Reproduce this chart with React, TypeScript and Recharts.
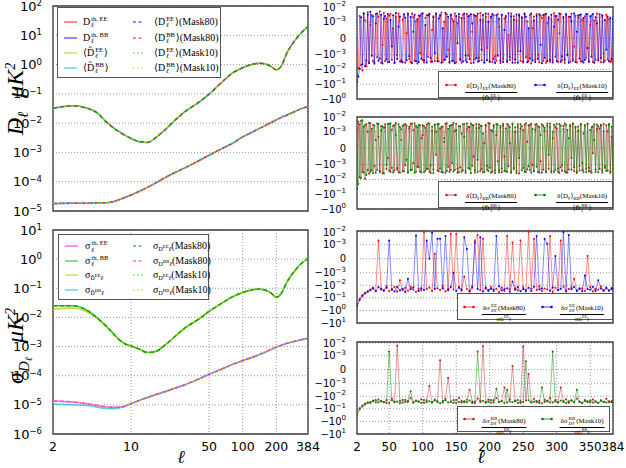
import React from 'react';
import { LineChart, Line, XAxis, YAxis, CartesianGrid, ReferenceArea } from 'recharts';

const SANS = "'DejaVu Sans', sans-serif";
const SERIF = "'Liberation Serif', 'DejaVu Serif', serif";

// ---- left column: smooth spectra (multipole ell, values in muK^2) ----
const ell = [2, 3, 4, 5, 6, 7, 8, 9, 10, 12, 14, 17, 20, 25, 30, 40, 50, 65, 80, 100, 120, 140, 160, 180, 200, 220, 250, 300, 340, 384];
const dEE = [0.032, 0.039, 0.033, 0.022, 0.011, 0.0068, 0.0048, 0.0037, 0.003, 0.0023, 0.0022, 0.0034, 0.0058, 0.013, 0.024, 0.05, 0.098, 0.25, 0.5, 0.78, 1.0, 1.12, 1.05, 0.85, 0.66, 0.85, 2.6, 7.5, 13, 20];
const dBB = [1.8e-5, 1.85e-5, 1.85e-5, 1.9e-5, 1.9e-5, 2.1e-5, 2.5e-5, 3.0e-5, 3.5e-5, 4.8e-5, 6.4e-5, 9.5e-5, 1.35e-4, 2.1e-4, 2.9e-4, 5.1e-4, 8.0e-4, 1.35e-3, 2.0e-3, 3.4e-3, 4.8e-3, 6.5e-3, 8.4e-3, 0.0105, 0.013, 0.0155, 0.019, 0.026, 0.032, 0.037];
const sigEEth = [0.025, 0.025, 0.018, 0.0095, 0.005, 0.0027, 0.0016, 0.0012, 0.00105, 0.0008, 0.00062, 0.0007, 0.0011, 0.0023, 0.0042, 0.0085, 0.016, 0.031, 0.05, 0.072, 0.088, 0.093, 0.086, 0.068, 0.049, 0.065, 0.17, 0.45, 0.75, 1.05];
const sigEEhat = [0.019, 0.021, 0.016, 0.009, 0.0048, 0.0026, 0.0016, 0.0012, 0.00105, 0.0008, 0.00062, 0.0007, 0.0011, 0.0023, 0.0042, 0.0085, 0.016, 0.031, 0.05, 0.072, 0.088, 0.093, 0.086, 0.068, 0.049, 0.065, 0.17, 0.45, 0.75, 1.05];
const sigBBth = [1.35e-5, 1.25e-5, 1.1e-5, 9.5e-6, 8.5e-6, 8.2e-6, 8.2e-6, 9.3e-6, 1.1e-5, 1.45e-5, 1.8e-5, 2.3e-5, 2.8e-5, 3.8e-5, 4.8e-5, 7.6e-5, 1.12e-4, 1.7e-4, 2.4e-4, 3.3e-4, 4.2e-4, 5.3e-4, 6.5e-4, 8e-4, 9.6e-4, 1.1e-3, 1.3e-3, 1.55e-3, 1.75e-3, 1.9e-3];
const sigBBhat = [1.07e-5, 1.0e-5, 9.5e-6, 8.3e-6, 7.5e-6, 7.4e-6, 8.0e-6, 9.3e-6, 1.1e-5, 1.45e-5, 1.8e-5, 2.3e-5, 2.8e-5, 3.8e-5, 4.8e-5, 7.6e-5, 1.12e-4, 1.7e-4, 2.4e-4, 3.3e-4, 4.2e-4, 5.3e-4, 6.5e-4, 8e-4, 9.6e-4, 1.1e-3, 1.3e-3, 1.55e-3, 1.75e-3, 1.9e-3];

const xTicksL = [2, 10, 50, 100, 200, 384];
const yTicksTL = [1e-5, 1e-4, 1e-3, 1e-2, 1e-1, 1, 10, 100];
const yTicksBL = [1e-6, 1e-5, 1e-4, 1e-3, 1e-2, 1e-1, 1, 10];

// ---- right column: relative residuals, values in units of 1e-3 ----
const ellR2 = Array.from({ length: 192 }, (_, i) => 2 + 2 * i); // 2..384
const ellR4 = [...Array.from({ length: 96 }, (_, i) => 2 + 4 * i), 384];
const xTicksR = [2, 50, 100, 150, 200, 250, 300, 350, 384];

const resEE80 = [
  -24, -8, 2.5, -5, -12, 3.8, 1.2, -6, 4.5, -3.2, 0.8, 2.9,
  -2.7, -4.1, 3.3, -1.5, 2.2, 5.1, -3.6, -0.4, 3.9, -2.8, 1.7, -3.3,
  2.6, 3.4, -2.2, 0.6, -3.7, 2.1, -1.1, 3.6, -2.9, -2.4, 1.4, 3.1,
  -3.5, 0.3, 2.8, -1.9, -3.2, 3.7, 2.0, -2.6, 1.1, -3.9, 2.7, -0.9,
  3.3, -2.3, -3.4, 1.8, 2.9, -1.4, 3.5, -3.0, 0.5, 2.4, -2.7, 3.8,
  -1.7, -2.9, 2.3, 4.2, -3.1, 1.0, -2.2, 3.2, -0.7, -3.6, 2.6, 1.5,
  -2.8, 3.6, -3.3, 0.9, 2.1, -1.8, -3.5, 3.0, 1.7, -2.5, 3.4, -1.2,
  2.7, -3.8, 0.4, 3.1, -2.1, 2.5, -3.0, -1.6, 3.9, -2.4, 1.3, -3.4,
  2.2, -0.6, 3.5, -2.9, 1.9, -3.2, 2.8, -1.3, -2.6, 3.3, 0.7, -3.7,
  3.0, -2.0, 1.6, 2.6, -3.1, 0.2, -2.3, 3.7, -1.9, 2.4, -3.5, 1.2,
  -0.8, 3.2, -2.7, 2.0, -3.4, 3.6, -1.5, 1.1, -2.8, 2.9, -3.9, 0.6,
  2.3, -2.2, 3.4, -1.0, -3.3, 2.7, 1.8, -2.6, 3.1, -3.6, 0.9, 2.1,
  -3.0, 1.5, -2.4, 3.8, -1.4, 2.5, -3.2, 0.3, 3.3, -2.5, 1.6, -3.7,
  2.9, -1.1, 2.2, -3.0, 3.5, -2.0, -0.5, 2.6, -3.4, 1.9, 3.0, -2.8,
  1.4, -3.5, 2.4, -1.6, 3.2, -2.9, 0.8, 2.7, -3.1, 1.2, -2.3, 3.6,
  -1.8, 2.0, -3.3, 2.8, -0.9, -2.6, 3.0, -2.1, 1.5, -3.2, -2.7, -3.0,
];
const resEE10 = [
  -70, -30, -9, 2.0, -4.5, 3.6, -6, -2.5, 3.1, -3.8, 4.8, -1.2,
  2.4, -3.5, 0.9, 3.7, -2.6, -1.8, 3.0, -3.9, 1.6, 2.5, -2.1, 3.4,
  -3.1, 1.3, -0.5, 2.8, -3.6, 3.9, -2.0, 0.7, 2.3, -2.9, -3.3, 3.2,
  1.9, -2.4, 3.6, -1.3, 2.1, -3.7, 0.4, 3.0, -2.7, 1.5, -3.2, 2.6,
  -1.9, 3.8, -2.5, 0.8, -3.4, 2.7, 3.3, -1.6, -3.0, 2.0, -0.9, 3.5,
  -2.8, 1.7, 2.9, -3.5, 0.6, -2.2, 4.0, -1.4, 2.2, -3.1, 3.1, -2.6,
  1.1, -3.8, 2.5, -0.3, 3.4, -2.3, 1.8, -2.9, 3.7, -1.1, -3.3, 2.4,
  -2.0, 3.2, 0.9, -3.6, 2.6, -1.7, 3.5, -2.8, 1.3, -0.7, 2.9, -3.4,
  3.6, -2.4, 1.0, -3.0, 2.3, 3.3, -1.9, -3.7, 2.8, -1.2, 1.6, -2.6,
  3.0, -3.2, 0.5, 2.1, -2.7, 3.8, -1.5, 2.4, -3.5, 1.4, -2.1, 3.1,
  -3.6, 2.7, -0.8, 1.9, -2.9, 3.4, 2.2, -3.3, 0.6, -1.8, 3.6, -2.5,
  1.2, -3.1, 2.6, -2.0, 3.2, -0.4, -3.8, 2.9, -1.6, 3.5, -2.7, 1.7,
  -2.3, 3.0, -3.4, 0.7, 2.5, -2.8, 1.4, 3.7, -3.0, -1.3, 2.1, -2.2,
  3.3, -1.0, -3.5, 2.2, 1.1, -2.6, 3.6, -3.2, 0.4, 2.7, -1.9, 3.1,
  -2.9, 1.8, -2.3, 3.4, -0.6, -3.0, 2.4, -1.4, 3.3, -3.6, 2.0, 0.9,
  -2.5, 3.2, -1.7, 2.6, -3.3, 1.3, -0.7, 2.3, -2.8, 1.9, -2.0, 1.6,
];
const resBB80 = [
  -14, 4.8, -7, 5.5, -3.0, 2.2, -9, 3.4, 1.0, -4.2, 3.8, -2.4,
  2.9, -1.3, -3.5, 3.6, 0.7, -2.7, 2.4, -3.8, 1.9, 3.2, -2.0, -0.6,
  3.5, -3.1, 1.4, 2.6, -2.5, 3.9, -1.7, -3.3, 2.1, 0.5, -2.9, 3.0,
  -1.1, 2.7, -3.6, 1.6, 3.3, -2.2, -0.9, 3.7, -3.0, 2.0, -1.5, 2.8,
  -3.4, 0.8, 2.5, -2.6, 3.1, -1.9, 3.6, -3.7, 1.2, -2.1, 2.9, -0.4,
  3.4, -2.8, 1.7, -3.2, 2.3, 0.6, -3.5, 3.8, -1.4, 2.6, -2.3, 3.0,
  -2.9, 1.1, 3.5, -1.8, -3.3, 2.4, 0.9, -2.4, 3.3, -3.6, 1.5, 2.2,
  -2.0, 3.7, -1.2, 2.8, -3.4, 1.8, -0.7, 3.2, -2.7, 2.5, -3.1, 0.3,
  2.6, -2.2, 3.9, -1.6, 1.3, -3.0, 2.9, -3.8, 0.8, 3.1, -2.5, 1.9,
  -3.3, 2.7, -0.5, -2.8, 3.4, -1.3, 2.1, -3.5, 3.6, -2.0, 1.0, -2.6,
  3.2, -3.9, 1.6, 2.4, -1.7, 3.0, -3.2, 0.4, 2.8, -2.4, 3.5, -1.0,
  -2.7, 1.4, 3.3, -3.1, 2.0, -0.8, -3.6, 2.6, 1.2, -2.9, 3.7, -1.9,
  2.2, -3.4, 0.6, 3.0, -2.3, 1.7, -3.0, 3.4, -1.5, -2.6, 2.5, 3.6,
  -3.5, 1.3, -2.1, 2.9, -0.6, 3.3, -2.8, 1.9, -3.7, 2.3, -1.2, 3.1,
  -2.4, 0.9, 2.7, -3.3, 3.5, -1.6, -2.9, 2.0, -0.3, 3.2, -3.1, 1.5,
  2.4, -2.0, 3.0, -3.4, 1.1, -1.7, 2.8, -2.5, 3.3, -3.0, 0.7, -2.2,
];
const resBB10 = [
  -45, -20, 3.2, -8, 6, -3.5, 2.8, -5, -2.2, 4.1, -3.0, 1.6,
  -3.7, 2.7, 0.5, -2.3, 3.5, -3.2, 1.2, 2.4, -3.9, 2.0, -1.0, 3.3,
  -2.6, 3.8, -1.6, -3.4, 2.9, 0.8, -2.1, 3.2, -3.5, 1.5, 2.6, -2.8,
  3.4, -0.7, -3.1, 2.2, -2.4, 3.7, 1.3, -3.6, 2.5, -1.4, 3.0, -2.9,
  0.6, 2.8, -3.3, 1.9, -2.0, 3.6, -3.0, -1.1, 2.3, -3.7, 3.1, 1.0,
  -2.5, 3.3, -1.8, 2.1, -3.4, 0.4, 3.5, -2.7, 1.6, -3.2, 2.7, -0.9,
  3.9, -2.2, 1.4, -3.5, 2.4, -1.5, -3.0, 3.2, 0.7, -2.6, 3.6, -1.7,
  2.1, -3.8, 2.9, -0.5, -2.3, 3.4, -3.1, 1.8, 2.6, -2.0, 0.9, -3.3,
  3.0, -1.2, -2.8, 3.7, -3.6, 1.1, 2.2, -2.5, 3.3, -0.8, -3.4, 2.5,
  -1.9, 3.5, -2.7, 1.7, -3.2, 2.8, 0.3, -2.9, 3.1, -1.6, 2.0, -3.7,
  2.3, -0.6, 3.4, -2.4, 1.3, -3.0, 3.8, -2.1, -1.3, 2.9, -3.5, 1.6,
  -2.8, 3.1, -1.4, 2.4, -3.6, 0.8, 3.2, -2.2, 1.9, -3.3, 2.6, -0.4,
  3.6, -2.6, 1.0, -3.1, 2.1, 3.4, -1.8, -3.7, 2.7, -1.1, 1.5, -2.9,
  3.0, -3.4, 0.6, 2.5, -2.2, 3.7, -1.5, 2.2, -3.0, 1.2, -2.5, 3.3,
  -0.9, -3.2, 2.8, -1.9, 3.5, -2.8, 1.4, -3.6, 2.3, 0.5, -2.1, 3.1,
  -3.3, 1.7, 2.6, -2.4, 3.4, -1.3, -2.7, 1.1, 2.9, -3.5, 2.2, -2.0,
];
const resSigEE80 = [
  -500, -120, -60, -40, -30, -22, -15, -28, 2.2, -18,
  -25, -12, -30, -20, -14, -33, -4, -24, -16, -27,
  -13, -22, -35, -18, -26, 10, -20, -15, -29, 0.35,
  -17, -24, -12, -31, -19, 7, -22, 7, -14, -27,
  -2, -20, -33, -16, 2.2, 6, -25, 3, -18, -30,
  -13, -23, -19, -36, -15, -28, 5, -21, 1.5, -17,
  -26, 2.2, -14, -31, 10, -19, 3, -24, -12, -29,
  -18, -22, 5, -34, -16, -25, 2.2, -13, -27, -20,
  -15, -3, -30, -21, -17, -28, 0.2, -14, -32, -19,
  -23, -12, -29, -18, -25, -16, -22,
];
const resSigEE10 = [
  -400, -150, -70, -45, -33, -25, -18, -30, -14, -22,
  -27, -16, 2.2, -23, -31, -13, -26, -19, -35, -3,
  -21, -15, 5.4, -28, -17, -24, 2.2, 0, 9, -20,
  3, 3, -18, 5, -25, -14, -1, -29, -16, -22,
  4, 0.7, -27, -13, 1.5, -20, 4, -32, -15, -24,
  -19, -28, 5, -12, -26, -21, -17, -33, -5, -23,
  -14, -30, -20, -25, -16, -29, -13, 5, -22, -18,
  3, 1.2, -27, -15, 0.2, -24, -19, 10, -31, 6,
  -21, -14, -26, -17, -30, -1.7, -20, -23, -13, -28,
  -4, -18, -25, -15, -27, -20, -17,
];
const resSigBB80 = [
  -300, -110, -65, -45, -35, -28, -22, -32, -18, -26,
  -30, -20, -36, -15, -27, 6.6, -24, -33, -19, -28,
  -14, -31, -22, -26, -17, -35, -21, -1.5, -29, -18,
  -25, 0.67, -32, -16, -0.6, -27, -20, -34, -13, -24,
  -30, -19, -3, -26, -36, -15, -23, 6, -28, -18,
  -33, -21, -14, -29, -24, -2, -31, -17, 0.27, -25,
  -20, -35, 5.5, -22, -0.3, -27, -16, -30, -23, -38,
  -19, -26, -14, -32, -21, -28, -2, -24, -17, -34,
  -22, -29, -15, -27, -36, -20, -25, -31, -18, -26,
  -33, -21, -28, -16, -30, -24, -27,
];
const resSigBB10 = [
  -250, -90, -55, -38, -30, -35, -25, -20, -31, -23,
  -28, -34, 2.2, -21, -30, -26, -37, -19, -29, -24,
  -4, -32, -23, -27, -35, -20, -30, -25, -33, -22,
  -29, -36, -24, -21, -31, -27, -34, -19, -28, -32,
  -25, -30, -22, -35, -26, 2.2, -29, -23, -33, -27,
  -20, -31, -2.5, -28, -24, -36, -3, -26, -30, -22,
  -34, -25, -29, 0.6, -21, -32, -27, -24, -35, -2,
  -28, -23, -31, 2.2, -26, -33, -22, -29, -36, -25,
  -21, -30, -3, -27, -34, -24, -29, -22, -31, -26,
  -35, -23, -28, -32, -25, -30, -27,
];
const symTickVals = [10, 1, 0, -1, -10, -100, -1000];
const symTickValsWide = [10, 1, 0, -1, -10, -100, -1000, -10000];

// symmetric log (linthresh = 1e-3), input in units of 1e-3
const LS = 1 / (1 - 0.1);
const sym = (x: number) => (Math.abs(x) <= 1 ? x * LS : Math.sign(x) * (LS + Math.log10(Math.abs(x))));

const leftTop = ell.map((l, i) => ({ l, ee: dEE[i], bb: dBB[i] }));
const leftBot = ell.map((l, i) => ({ l, eTh: sigEEth[i], eHat: sigEEhat[i], bTh: sigBBth[i], bHat: sigBBhat[i] }));
const mk = (xs: number[], a: number[], b: number[]) => xs.map((l, i) => ({ l, a: sym(a[i]), b: sym(b[i]) }));

const sup = (e: number) => (e < 0 ? '\u2212' + -e : String(e));

function LogTick(props: any) {
  const { x, y, payload } = props;
  const e = Math.round(Math.log10(payload.value));
  return (
    <text x={x - 3} y={y + 4.5} textAnchor="end" fontFamily={SANS} fontSize={13} fill="#000">
      10<tspan dy={-4.5} fontSize={8.5}>{sup(e)}</tspan>
    </text>
  );
}

function SymTick(props: any) {
  const { x, y, payload } = props;
  const t = payload.value;
  if (Math.abs(t) < 1e-6) {
    return <text x={x - 3} y={y + 3.5} textAnchor="end" fontFamily={SANS} fontSize={10} fill="#000">0</text>;
  }
  const e = Math.round(Math.abs(t) - LS) - 3;
  return (
    <text x={x - 3} y={y + 3.5} textAnchor="end" fontFamily={SANS} fontSize={10} fill="#000">
      {t < 0 ? '\u2212' : ''}10<tspan dy={-4.5} fontSize={7}>{sup(e)}</tspan>
    </text>
  );
}

const gridProps = { stroke: '#9a9a9a', strokeDasharray: '1 2' };
const frame = '#3c3c3c';

function smooth(key: string, color: string, dash?: string, op = 0.55, w = 1.5) {
  return (
    <Line key={key + color + (dash || '')} dataKey={key} type="monotone" stroke={color} strokeOpacity={op}
      strokeWidth={w} strokeDasharray={dash} dot={false} activeDot={false} isAnimationActive={false} />
  );
}

const DASH = '4 3';
const DOT = '1.5 2.5';

function SS({ hi, lo, fs = 6.5 }: { hi: React.ReactNode; lo: React.ReactNode; fs?: number }) {
  return (
    <span style={{ display: 'inline-flex', flexDirection: 'column', verticalAlign: 'middle', fontSize: fs, lineHeight: 1.05, margin: '0 1px' }}>
      <span>{hi}</span>
      <span style={{ fontStyle: 'italic' }}>{lo}</span>
    </span>
  );
}

function Handle({ color, dash, w, op = 0.6, dots }: { color: string; dash?: string; w: number; op?: number; dots?: boolean }) {
  return (
    <svg width={w} height={8} style={{ display: 'block' }}>
      <line x1={1} y1={4} x2={w - 1} y2={4} stroke={color} strokeOpacity={op} strokeWidth={1.5} strokeDasharray={dash} />
      {dots && <circle cx={1.5} cy={4} r={1.3} fill={color} />}
      {dots && <circle cx={w - 1.5} cy={4} r={1.3} fill={color} />}
    </svg>
  );
}

type Entry = { color: string; dash?: string; label: React.ReactNode };

function GridLegend({ left, top, w, h, rows, cols, hw }: { left: number; top: number; w: number; h: number; rows: number[]; cols: { hx: number; lx: number; items: Entry[] }[]; hw: number[] }) {
  return (
    <div style={{ position: 'absolute', left, top, width: w, height: h, border: '1px solid #555', background: '#fff', boxSizing: 'border-box', fontFamily: SERIF, fontSize: 10 }}>
      {cols.map((c, ci) =>
        c.items.map((it, ri) => (
          <React.Fragment key={ci + '-' + ri}>
            <div style={{ position: 'absolute', left: c.hx, top: rows[ri] - 4 }}>
              <Handle color={it.color} dash={it.dash} w={hw[ci]} />
            </div>
            <div style={{ position: 'absolute', left: c.lx, top: rows[ri] - 7, whiteSpace: 'nowrap', lineHeight: '14px' }}>{it.label}</div>
          </React.Fragment>
        ))
      )}
    </div>
  );
}

const Dh = 'D\u0302';

function Frac({ num, den }: { num: React.ReactNode; den: React.ReactNode }) {
  return (
    <span style={{ display: 'inline-flex', flexDirection: 'column', alignItems: 'center', fontFamily: SERIF, fontSize: 7, lineHeight: 1.15, whiteSpace: 'nowrap' }}>
      <span style={{ borderBottom: '0.8px solid #000', padding: '0 1px' }}>{num}</span>
      <span>{den}</span>
    </span>
  );
}

function ResLegend({ left, top, w, h, c1, c2, n1, n2, den, spec }: any) {
  return (
    <div style={{ position: 'absolute', left, top, width: w, height: h, border: '1px solid #555', background: '#fff', boxSizing: 'border-box' }}>
      <div style={{ position: 'absolute', left: spec[0], top: h / 2 - 5 }}><Handle color={c1} w={12} op={0.5} dots /></div>
      <div style={{ position: 'absolute', left: spec[1], top: 2, transform: 'translateX(-50%)' }}><Frac num={n1} den={den} /></div>
      <div style={{ position: 'absolute', left: spec[2], top: h / 2 - 5 }}><Handle color={c2} w={12} op={0.5} dots /></div>
      <div style={{ position: 'absolute', left: spec[3], top: 2, transform: 'translateX(-50%)' }}><Frac num={n2} den={den} /></div>
    </div>
  );
}

function ResPanel({ top, data, c1, c2, ticks, lo, hi, showX, mt = 17 }: any) {
  const plotH = 92;
  const h = mt + plotH + (showX ? 22 : 6);
  return (
    <div style={{ position: 'absolute', left: 300, top: top - mt }}>
      <LineChart width={326} height={h} data={data} margin={{ top: mt, right: 13, left: 0, bottom: 0 }}>
        <CartesianGrid {...gridProps} />
        <XAxis dataKey="l" type="number" domain={[2, 384]} ticks={xTicksR} interval={0} allowDataOverflow
          height={showX ? 22 : 6} tickLine={false} axisLine={false}
          tick={showX ? { fontSize: 12, fontFamily: SANS, fill: '#000' } : false} tickMargin={2} />
        <YAxis type="number" domain={[lo, hi]} ticks={ticks} interval={0} allowDataOverflow width={57}
          tick={<SymTick />} tickLine={false} axisLine={false} />
        <Line dataKey="a" type="linear" stroke={c1} strokeOpacity={0.45} strokeWidth={1}
          dot={{ r: 1, fill: c1, stroke: 'none' }} activeDot={false} isAnimationActive={false} />
        <Line dataKey="b" type="linear" stroke={c2} strokeOpacity={0.45} strokeWidth={1}
          dot={{ r: 1, fill: c2, stroke: 'none' }} activeDot={false} isAnimationActive={false} />
        <ReferenceArea x1={2} x2={384} y1={lo} y2={hi} fill="none" stroke={frame} strokeWidth={1.3} ifOverflow="visible" />
      </LineChart>
    </div>
  );
}

const RED = '#ff0000', BLUE = '#0000ff', YEL = '#bfbf00', CYAN = '#00bfbf', LIME = '#00e000', ORA = '#ffa500', MAG = '#ff00ff', GRN = '#1f9f1f';
const FB = '#b22222', DG = '#008000';

export default function App() {
  const p1 = mk(ellR2, resEE80, resEE10);
  const p2 = mk(ellR2, resBB80, resBB10);
  const p3 = mk(ellR4, resSigEE80, resSigEE10);
  const p4 = mk(ellR4, resSigBB80, resSigBB10);
  const tA = symTickVals.map(sym);
  const tB = symTickValsWide.map(sym);

  const D = (s: string, pre = '', post = '', hat = false) => (
    <span>{pre}{hat ? Dh : 'D'}<SS hi={s} lo={'\u2113'} />{post}</span>
  );
  const sg = (s: string) => <span>{'\u03c3'}<SS hi={s} lo={'\u2113'} /></span>;
  const sD = (s: string, post = '', hat = false) => (
    <span>{'\u03c3'}<span style={{ fontSize: 6, verticalAlign: -2 }}>{hat ? Dh : 'D'}<sup style={{ fontSize: 5 }}>{s}</sup><i>{'\u2113'}</i></span>{post}</span>
  );
  const sub5 = { fontSize: 5 };

  return (
    <div style={{ position: 'absolute', left: 0, top: 0, width: 626, height: 468, background: '#fff', overflow: 'hidden' }}>
      {/* top-left: spectra */}
      <div style={{ position: 'absolute', left: 0, top: 0 }}>
        <LineChart width={325} height={222} data={leftTop} margin={{ top: 6, right: 17, left: 0, bottom: 0 }}>
          <CartesianGrid {...gridProps} />
          <XAxis dataKey="l" type="number" scale="log" domain={[2, 384]} ticks={xTicksL} interval={0} allowDataOverflow
            height={11} tick={false} tickLine={false} axisLine={false} />
          <YAxis type="number" scale="log" domain={[1e-5, 100]} ticks={yTicksTL} interval={0} allowDataOverflow width={53}
            tick={<LogTick />} tickLine={false} axisLine={false} />
          {smooth('ee', RED)}
          {smooth('bb', BLUE)}
          {smooth('ee', YEL, undefined, 0.8)}
          {smooth('bb', CYAN, undefined, 0.7)}
          {smooth('ee', BLUE, DASH, 0.6)}
          {smooth('bb', RED, DASH, 0.6)}
          {smooth('ee', LIME, DOT, 0.9)}
          {smooth('bb', ORA, DOT, 0.9)}
          <ReferenceArea x1={2} x2={384} y1={1e-5} y2={100} fill="none" stroke={frame} strokeWidth={1.3} ifOverflow="visible" />
        </LineChart>
      </div>

      {/* bottom-left: standard deviations */}
      <div style={{ position: 'absolute', left: 0, top: 214 }}>
        <LineChart width={325} height={242} data={leftBot} margin={{ top: 16, right: 17, left: 0, bottom: 0 }}>
          <CartesianGrid {...gridProps} />
          <XAxis dataKey="l" type="number" scale="log" domain={[2, 384]} ticks={xTicksL} interval={0} allowDataOverflow
            height={22} tickLine={false} axisLine={false} tick={{ fontSize: 12.5, fontFamily: SANS, fill: '#000' }} tickMargin={2} />
          <YAxis type="number" scale="log" domain={[1e-6, 10]} ticks={yTicksBL} interval={0} allowDataOverflow width={53}
            tick={<LogTick />} tickLine={false} axisLine={false} />
          {smooth('bTh', MAG, undefined, 0.6)}
          {smooth('eTh', GRN, undefined, 0.7)}
          {smooth('eHat', YEL, undefined, 0.8)}
          {smooth('bHat', CYAN, undefined, 0.7)}
          {smooth('eTh', DG, DASH, 0.8)}
          {smooth('bTh', MAG, DASH, 0.6)}
          {smooth('eTh', LIME, DOT, 0.9)}
          {smooth('bTh', ORA, DOT, 0.9)}
          <ReferenceArea x1={2} x2={384} y1={1e-6} y2={10} fill="none" stroke={frame} strokeWidth={1.3} ifOverflow="visible" />
        </LineChart>
      </div>

      <ResPanel top={7} mt={7} data={p1} c1={RED} c2={BLUE} ticks={tA} lo={sym(-1000)} hi={sym(10)} />
      <ResPanel top={117} data={p2} c1={FB} c2={DG} ticks={tA} lo={sym(-1000)} hi={sym(10)} />
      <ResPanel top={231} data={p3} c1={RED} c2={BLUE} ticks={tB} lo={sym(-10000)} hi={2.2} />
      <ResPanel top={342} data={p4} c1={FB} c2={DG} ticks={tB} lo={sym(-10000)} hi={2.2} showX />

      <GridLegend left={57} top={7} w={164} h={71} rows={[13.7, 29.7, 44.7, 59.7]} hw={[15, 12]}
        cols={[
          { hx: 5, lx: 25, items: [
            { color: RED, label: D('th, EE') },
            { color: BLUE, label: D('th, BB') },
            { color: YEL, label: D('EE', '\u27e8', '\u27e9', true) },
            { color: CYAN, label: D('BB', '\u27e8', '\u27e9', true) },
          ] },
          { hx: 74, lx: 96, items: [
            { color: BLUE, dash: '3 2.5', label: D('EE', '\u27e8', '\u27e9(Mask80)') },
            { color: RED, dash: '3 2.5', label: D('BB', '\u27e8', '\u27e9(Mask80)') },
            { color: LIME, dash: DOT, label: D('EE', '\u27e8', '\u27e9(Mask10)') },
            { color: ORA, dash: DOT, label: D('BB', '\u27e8', '\u27e9(Mask10)') },
          ] },
        ]} />

      <GridLegend left={58} top={234} w={151} h={66} rows={[11.3, 25.7, 40.3, 55.3]} hw={[15, 12]}
        cols={[
          { hx: 5, lx: 26, items: [
            { color: MAG, label: sg('th, EE') },
            { color: GRN, label: sg('th, BB') },
            { color: YEL, label: sD('EE', '', true) },
            { color: CYAN, label: sD('BB', '', true) },
          ] },
          { hx: 73, lx: 94, items: [
            { color: DG, dash: '3 2.5', label: sD('EE', '(Mask80)') },
            { color: MAG, dash: '3 2.5', label: sD('BB', '(Mask80)') },
            { color: LIME, dash: DOT, label: sD('EE', '(Mask10)') },
            { color: ORA, dash: DOT, label: sD('BB', '(Mask10)') },
          ] },
        ]} />

      <ResLegend left={438} top={71} w={175} h={27} c1={RED} c2={BLUE} spec={[6, 52, 95, 143]}
        n1={<span>{'\u03b4\u27e8D'}<sub style={sub5}>{'\u2113'}</sub>{'\u27e9'}<sub style={sub5}>EE</sub>(Mask80)</span>}
        n2={<span>{'\u03b4\u27e8D'}<sub style={sub5}>{'\u2113'}</sub>{'\u27e9'}<sub style={sub5}>EE</sub>(Mask10)</span>}
        den={<span>{'\u27e8'}{Dh}<SS hi="EE" lo={'\u2113'} fs={5} />{'\u27e9'}</span>} />
      <ResLegend left={438} top={181} w={175} h={27} c1={FB} c2={DG} spec={[6, 52, 95, 143]}
        n1={<span>{'\u03b4\u27e8D'}<sub style={sub5}>{'\u2113'}</sub>{'\u27e9'}<sub style={sub5}>BB</sub>(Mask80)</span>}
        n2={<span>{'\u03b4\u27e8D'}<sub style={sub5}>{'\u2113'}</sub>{'\u27e9'}<sub style={sub5}>BB</sub>(Mask10)</span>}
        den={<span>{'\u27e8'}{Dh}<SS hi="BB" lo={'\u2113'} fs={5} />{'\u27e9'}</span>} />
      <ResLegend left={457} top={293} w={156} h={27} c1={RED} c2={BLUE} spec={[5, 46, 83, 124]}
        n1={<span>{'\u03b4\u03c3'}<SS hi="EE" lo={'D\u2113'} fs={5} />(Mask80)</span>}
        n2={<span>{'\u03b4\u03c3'}<SS hi="EE" lo={'D\u2113'} fs={5} />(Mask10)</span>}
        den={<span>{'\u03c3'}<span style={sub5}>{Dh}<sup>EE</sup>{'\u2113'}</span></span>} />
      <ResLegend left={457} top={406} w={153} h={26} c1={FB} c2={DG} spec={[5, 46, 83, 124]}
        n1={<span>{'\u03b4\u03c3'}<SS hi="BB" lo={'D\u2113'} fs={5} />(Mask80)</span>}
        n2={<span>{'\u03b4\u03c3'}<SS hi="BB" lo={'D\u2113'} fs={5} />(Mask10)</span>}
        den={<span>{'\u03c3'}<span style={sub5}>{Dh}<sup>BB</sup>{'\u2113'}</span></span>} />

      {/* axis labels */}
      <svg width={626} height={468} style={{ position: 'absolute', left: 0, top: 0, pointerEvents: 'none' }}>
        <text transform="translate(23,99) rotate(-90)" textAnchor="middle" fontFamily={SERIF} fontStyle="italic" fontSize={24} fill="#000">
          D<tspan fontSize={15} dy={5}>{'\u2113'}</tspan><tspan dx={14} dy={-5}>{'\u03bcK'}</tspan><tspan fontSize={14} dy={-8}>2</tspan>
        </text>
        <text transform="translate(23,346) rotate(-90)" textAnchor="middle" fontFamily={SERIF} fontStyle="italic" fontSize={24} fill="#000">
          {'\u03c3'}<tspan fontSize={15} dy={6}>D</tspan><tspan fontSize={10} dy={3}>{'\u2113'}</tspan><tspan dx={14} dy={-9}>{'\u03bcK'}</tspan><tspan fontSize={14} dy={-8}>2</tspan>
        </text>
        <text x={181} y={463} textAnchor="middle" fontFamily={SERIF} fontStyle="italic" fontSize={18} fill="#000">{'\u2113'}</text>
        <text x={481} y={463} textAnchor="middle" fontFamily={SERIF} fontStyle="italic" fontSize={18} fill="#000">{'\u2113'}</text>
      </svg>
    </div>
  );
}
